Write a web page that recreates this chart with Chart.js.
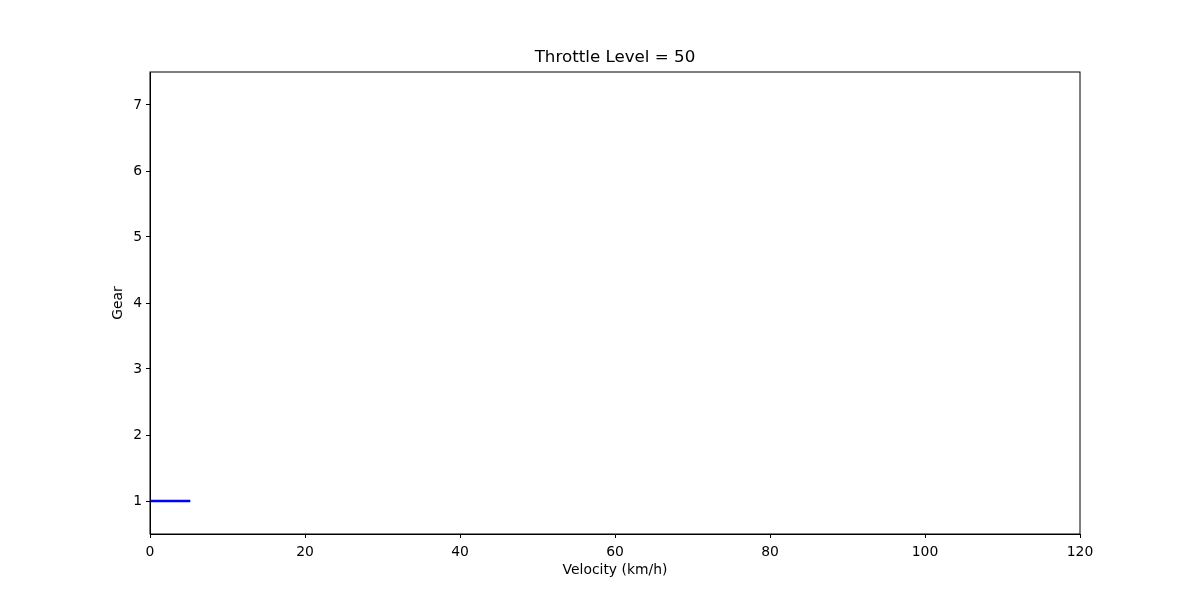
<!DOCTYPE html>
<html>
<head>
<meta charset="utf-8">
<script src="https://cdn.jsdelivr.net/npm/chart.js@4/dist/chart.umd.min.js"></script>
<style>html,body{margin:0;background:#fff}#wrap{width:1200px;height:600px}</style>
</head>
<body>
<div id="wrap"><canvas id="c"></canvas></div>
<script>
const velocity = [0, 5.2];
const gear = [1, 1];
const xTicks = [0, 20, 40, 60, 80, 100, 120];
const yTicks = [1, 2, 3, 4, 5, 6, 7];
const titleText = 'Throttle Level = 50';

const font = { family: 'DejaVu Sans', size: 13.9 };
// frame round the plot area and the title centred over it, like matplotlib
const frame = {
  id: 'frame',
  afterDraw(chart) {
    const a = chart.chartArea, ctx = chart.ctx;
    ctx.save();
    ctx.strokeStyle = '#000';
    ctx.lineWidth = 1;
    ctx.strokeRect(a.left, a.top, a.right - a.left, a.bottom - a.top);
    ctx.fillStyle = '#000';
    ctx.font = '16.7px "DejaVu Sans"';
    ctx.textAlign = 'center';
    ctx.textBaseline = 'middle';
    ctx.fillText(titleText, (a.left + a.right) / 2, 58);
    ctx.restore();
  }
};

new Chart(document.getElementById('c'), {
  type: 'line',
  data: {
    datasets: [{
      data: velocity.map((v, i) => ({ x: v, y: gear[i] })),
      borderColor: '#0000ff',
      borderWidth: 2.5,
      pointRadius: 0,
      fill: false
    }]
  },
  options: {
    responsive: true,
    maintainAspectRatio: false,
    animation: false,
    layout: { padding: { left: 110, right: 120, top: 72, bottom: 21 } },
    plugins: {
      legend: { display: false },
      tooltip: { enabled: false },
      title: { display: false }
    },
    scales: {
      x: {
        type: 'linear',
        min: 0, max: 120,
        afterBuildTicks: s => { s.ticks = xTicks.map(v => ({ value: v })); },
        afterFit: s => { s.height = 45; },
        grid: { drawOnChartArea: false, color: '#000', tickLength: 4 },
        border: { color: '#000' },
        ticks: { color: '#000', font, padding: 6, maxRotation: 0 },
        title: { display: true, text: 'Velocity (km/h)', color: '#000', font, padding: 0 }
      },
      y: {
        type: 'linear',
        min: 0.5, max: 7.5,
        afterBuildTicks: s => { s.ticks = yTicks.map(v => ({ value: v })); },
        afterFit: s => { s.width = 40; },
        grid: { drawOnChartArea: false, color: '#000', tickLength: 4 },
        border: { color: '#000' },
        ticks: { color: '#000', font, padding: 4 },
        title: { display: true, text: 'Gear', color: '#000', font, padding: 0 }
      }
    }
  },
  plugins: [frame]
});
</script>
</body>
</html>
